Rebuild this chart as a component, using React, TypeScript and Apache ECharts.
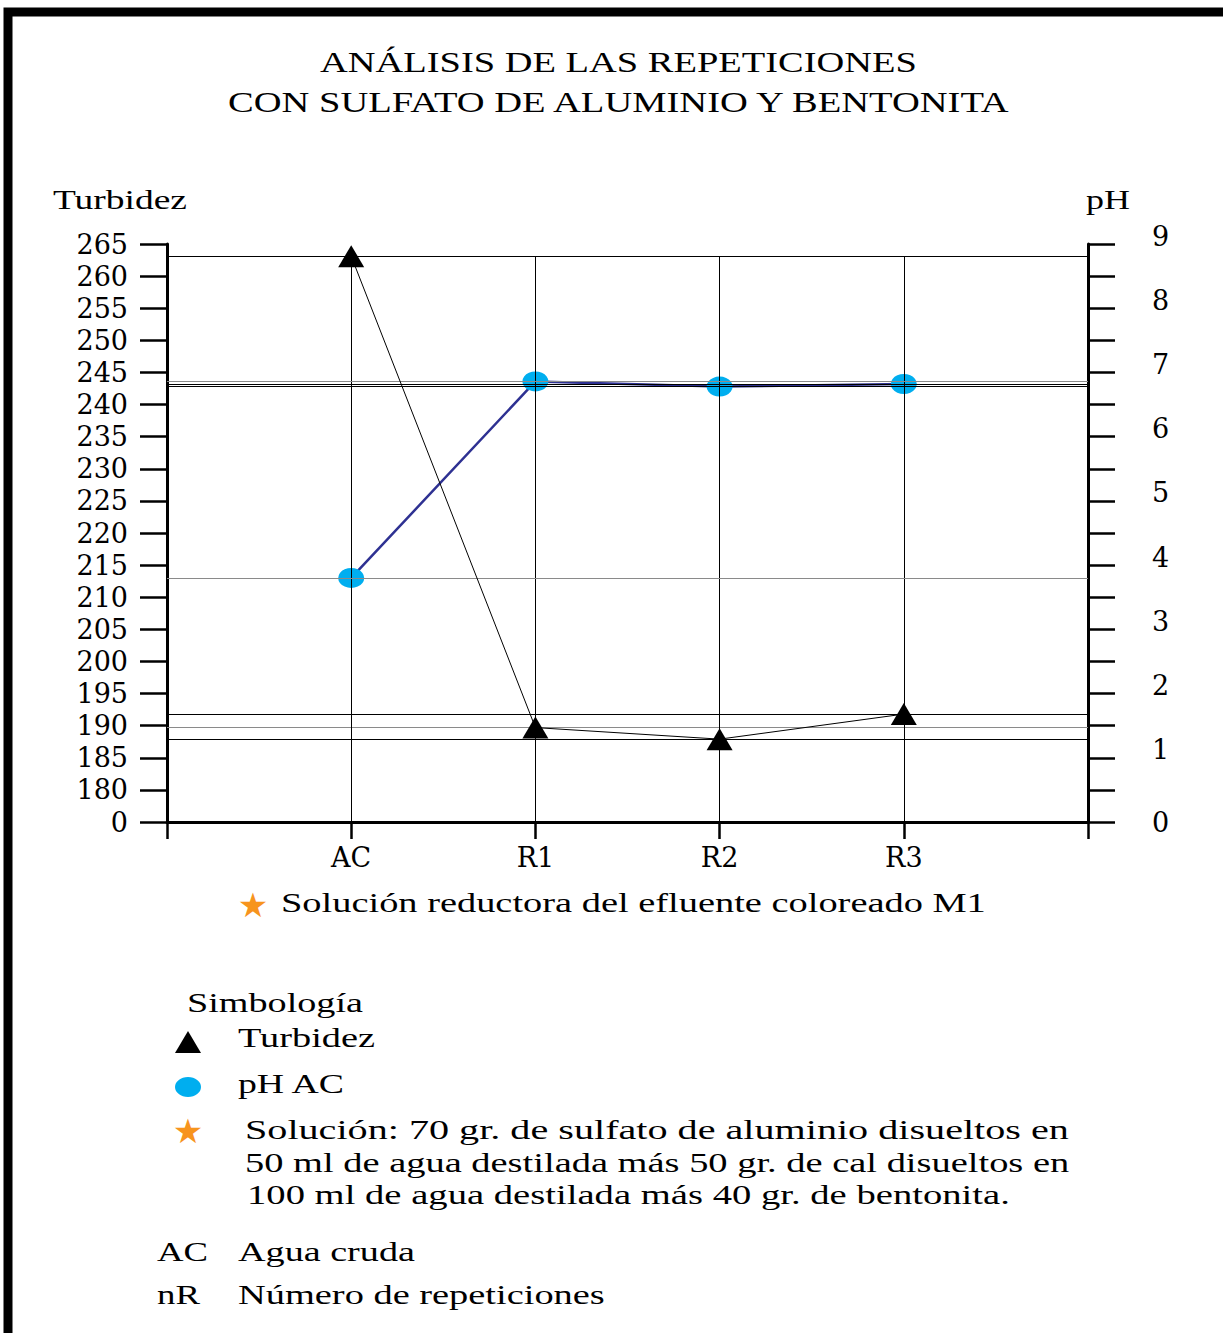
import { useEffect, useRef } from 'react';
import * as echarts from 'echarts';

// ---- data ----
const categories = ['AC', 'R1', 'R2', 'R3'];
const turbidez = [263.1, 189.7, 187.9, 191.8];
const ph = [3.8, 6.86, 6.78, 6.82];
const turbidezGuideColors = ['#000000', '#8a8a8a', '#000000', '#000000'];
const phGuideColors = ['#8a8a8a', '#8a8a8a', '#000000', '#000000'];
const turbidezAxis = { min: 175, max: 265, step: 5, zeroLabel: '0' };
const phAxis = { min: 0, max: 9, step: 0.5 };

const titleLines = ['ANÁLISIS DE LAS REPETICIONES', 'CON SULFATO DE ALUMINIO Y BENTONITA'];
const subtitle = 'Solución reductora del efluente coloreado M1';
const solutionLines = [
  'Solución: 70 gr. de sulfato de aluminio disueltos en',
  '50 ml de agua destilada más 50 gr. de cal disueltos en',
  '100 ml de agua destilada más 40 gr. de bentonita.',
];

const SERIF = '"Liberation Serif", "Times New Roman", serif';
const AXIS_FONT = '"DejaVu Serif", serif';
const AXIS_SIZE = 27;

let measureCtx: CanvasRenderingContext2D | null = null;
function measure(s: string, size: number, family: string) {
  if (!measureCtx) measureCtx = document.createElement('canvas').getContext('2d');
  measureCtx!.font = `${size}px ${family}`;
  return measureCtx!.measureText(s).width;
}

function stretchedText(s: string, x: number, y: number, width: number, size: number) {
  const natural = measure(s, size, SERIF);
  return {
    type: 'text',
    x,
    y,
    scaleX: width / natural,
    silent: true,
    style: {
      text: s,
      fontSize: size,
      fontFamily: SERIF,
      fill: '#000',
      align: 'left',
      verticalAlign: 'middle',
      textAlign: 'left',
      textVerticalAlign: 'middle',
    },
  };
}

function star(x: number, y: number) {
  return {
    type: 'text',
    x,
    y,
    silent: true,
    style: {
      text: '★',
      fontSize: 34,
      fontFamily: '"DejaVu Sans", sans-serif',
      fill: '#F7941D',
      align: 'center',
      verticalAlign: 'middle',
      textAlign: 'center',
      textVerticalAlign: 'middle',
    },
  };
}

export default function App() {
  const ref = useRef<HTMLDivElement>(null);

  useEffect(() => {
    document.body.style.margin = '0';
    if (!ref.current) return;
    const chart = echarts.init(ref.current, undefined, { renderer: 'svg' });

    const xData = ['', ...categories, ''];
    const topTurb = Math.max(...turbidez);

    const guideBase = {
      type: 'line',
      silent: true,
      symbol: 'none',
      lineStyle: { opacity: 0 },
      z: 1,
    };

    const option: any = {
      animation: false,
      backgroundColor: '#ffffff',
      grid: { left: 167, right: 135, top: 244, bottom: 511, containLabel: false },
      xAxis: {
        type: 'category',
        boundaryGap: false,
        data: xData,
        axisLine: { show: true, lineStyle: { color: '#000', width: 3 } },
        axisTick: { show: true, length: 17, interval: 0, lineStyle: { color: '#000', width: 2.5 } },
        axisLabel: { interval: 0, margin: 22, color: '#000', fontFamily: AXIS_FONT, fontSize: AXIS_SIZE },
        splitLine: { show: false },
      },
      yAxis: [
        {
          type: 'value',
          position: 'left',
          min: turbidezAxis.min,
          max: turbidezAxis.max,
          interval: turbidezAxis.step,
          axisLine: { show: true, lineStyle: { color: '#000', width: 3 } },
          axisTick: { show: true, length: 27, inside: false, lineStyle: { color: '#000', width: 2.5 } },
          axisLabel: {
            margin: 39,
            color: '#000',
            fontFamily: AXIS_FONT,
            fontSize: AXIS_SIZE,
            formatter: (v: number) => (v === turbidezAxis.min ? turbidezAxis.zeroLabel : String(v)),
          },
          splitLine: { show: false },
        },
        {
          type: 'value',
          position: 'right',
          min: phAxis.min,
          max: phAxis.max,
          interval: phAxis.step,
          axisLine: { show: true, lineStyle: { color: '#000', width: 3 } },
          axisTick: { show: true, length: 27, inside: false, lineStyle: { color: '#000', width: 2.5 } },
          axisLabel: {
            margin: 64,
            color: '#000',
            fontFamily: AXIS_FONT,
            fontSize: AXIS_SIZE,
            formatter: (v: number) =>
              v === phAxis.min ? `{z|${v}}` : Number.isInteger(v) ? `{n|${v}}` : '',
            rich: {
              z: { fontFamily: AXIS_FONT, fontSize: AXIS_SIZE, color: '#000' },
              n: { fontFamily: AXIS_FONT, fontSize: AXIS_SIZE, color: '#000', padding: [0, 0, 16, 0] },
            },
          },
          splitLine: { show: false },
        },
      ],
      series: [
        {
          ...guideBase,
          name: 'guiaTurbidez',
          yAxisIndex: 0,
          data: categories.map((c, i) => [c, turbidez[i]]),
          markLine: {
            silent: true,
            symbol: ['none', 'none'],
            label: { show: false },
            emphasis: { disabled: true },
            data: [
              ...turbidez.map((v, i) => ({
                yAxis: v,
                lineStyle: { color: turbidezGuideColors[i], width: 1, type: 'solid' },
              })),
              ...categories.map((c) => [
                { coord: [c, topTurb], lineStyle: { color: '#000', width: 1, type: 'solid' } },
                { coord: [c, turbidezAxis.min] },
              ]),
            ],
          },
        },
        {
          ...guideBase,
          name: 'guiaPH',
          yAxisIndex: 1,
          data: categories.map((c, i) => [c, ph[i]]),
          markLine: {
            silent: true,
            symbol: ['none', 'none'],
            label: { show: false },
            emphasis: { disabled: true },
            data: ph.map((v, i) => ({
              yAxis: v,
              lineStyle: { color: phGuideColors[i], width: 1, type: 'solid' },
            })),
          },
        },
        {
          type: 'line',
          name: 'pH AC',
          yAxisIndex: 1,
          z: 4,
          data: categories.map((c, i) => [c, ph[i]]),
          symbol: 'circle',
          symbolSize: [26, 20],
          itemStyle: { color: '#00AEEF' },
          lineStyle: { color: '#2E3192', width: 2.5 },
        },
        {
          type: 'line',
          name: 'Turbidez',
          yAxisIndex: 0,
          z: 5,
          data: categories.map((c, i) => [c, turbidez[i]]),
          symbol: 'triangle',
          symbolSize: [26, 22],
          itemStyle: { color: '#000' },
          lineStyle: { color: '#000', width: 1 },
        },
      ],
      graphic: [
        {
          type: 'rect',
          silent: true,
          shape: { x: 8, y: 12, width: 1500, height: 1500 },
          style: { fill: 'none', stroke: '#000', lineWidth: 9 },
        },
        stretchedText(titleLines[0], 320, 62, 597, 29),
        stretchedText(titleLines[1], 228, 102, 786, 29),
        stretchedText('Turbidez', 53, 200, 134, 27),
        stretchedText('pH', 1086, 200, 44, 27),
        star(253, 905),
        stretchedText(subtitle, 281, 903, 705, 27),
        stretchedText('Simbología', 187, 1003, 176, 27),
        {
          type: 'polygon',
          silent: true,
          shape: { points: [[175, 1053], [201, 1053], [188, 1031]] },
          style: { fill: '#000' },
        },
        stretchedText('Turbidez', 238, 1038, 137, 27),
        {
          type: 'ellipse',
          silent: true,
          shape: { cx: 188, cy: 1087, rx: 13, ry: 10 },
          style: { fill: '#00AEEF' },
        },
        stretchedText('pH AC', 238, 1084, 108, 27),
        star(188, 1131),
        stretchedText(solutionLines[0], 245, 1130, 824, 27),
        stretchedText(solutionLines[1], 245, 1163, 824, 27),
        stretchedText(solutionLines[2], 247, 1195, 763, 27),
        stretchedText('AC', 157, 1252, 51, 27),
        stretchedText('Agua cruda', 238, 1252, 177, 27),
        stretchedText('nR', 157, 1295, 43, 27),
        stretchedText('Número de repeticiones', 238, 1295, 367, 27),
      ],
    };

    chart.setOption(option);
    return () => chart.dispose();
  }, []);

  return <div ref={ref} style={{ width: 1223, height: 1333 }} />;
}
